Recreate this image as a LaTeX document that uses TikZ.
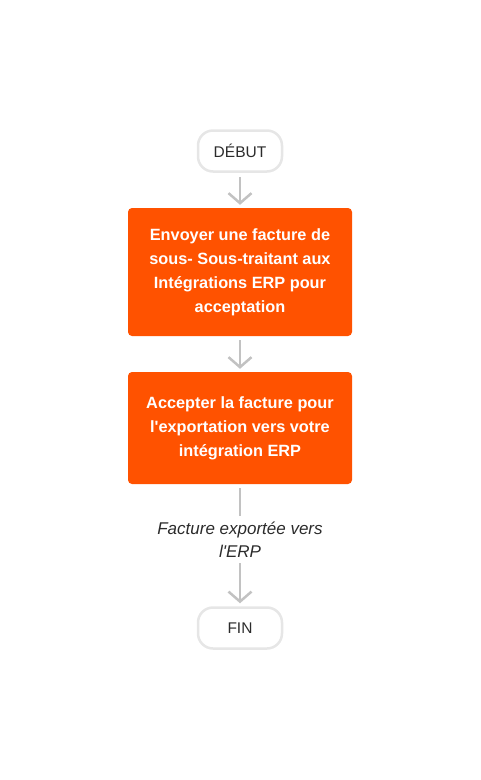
\documentclass[tikz,border=0pt]{standalone}
\usepackage{fontspec}
\setmainfont{Liberation Sans}
\usepackage{xcolor}
\usetikzlibrary{arrows,arrows.meta,positioning}
\definecolor{flowOrange}{HTML}{FF5200}
\definecolor{flowGray}{HTML}{C2C2C2}
\definecolor{termBorder}{HTML}{E6E6E6}
\definecolor{labelText}{HTML}{2B2B2B}

\begin{document}
\begin{tikzpicture}[
    x=1pt, y=-1pt,
    terminal/.style={draw=termBorder, line width=2.5pt, rounded corners=15pt, fill=white,
        minimum width=84pt, minimum height=41pt, font=\fontsize{15.5}{18}\selectfont, text=labelText},
    process/.style={fill=flowOrange, rounded corners=4pt, text=white, align=center,
        minimum width=224pt, font=\fontsize{16.3}{24}\selectfont\bfseries, inner sep=0pt},
    flowline/.style={draw=flowGray, line width=2.5pt},
    flowarrow/.style={flowline, -{Straight Barb[length=10pt,width=23pt,line width=2.5pt]}},
    edgelabel/.style={align=center, font=\fontsize{17}{23}\selectfont\itshape, text=labelText}]
\useasboundingbox (0,0) rectangle (480,780);

\node[terminal] (debut) at (240,151) {DÉBUT};
\node[process, minimum height=128pt] (envoi) at (240,272) {Envoyer une facture de\\sous- Sous-traitant aux\\Intégrations ERP pour\\acceptation};
\node[process, minimum height=112pt] (accept) at (240,428) {Accepter la facture pour\\l\textquotesingle exportation vers votre\\intégration ERP};
\node[edgelabel] (export) at (240,540) {Facture exportée vers\\l\textquotesingle ERP};
\node[terminal] (fin) at (240,628) {FIN};

\draw[flowarrow] ([yshift=-4pt]debut.south) -- ([yshift=3pt]envoi.north);
\draw[flowarrow] ([yshift=-4pt]envoi.south) -- ([yshift=3pt]accept.north);
\draw[flowline] ([yshift=-4pt]accept.south) -- ([yshift=3pt]export.north);
\draw[flowarrow] ([yshift=-2pt]export.south) -- ([yshift=3pt]fin.north);

\end{tikzpicture}
\end{document}
